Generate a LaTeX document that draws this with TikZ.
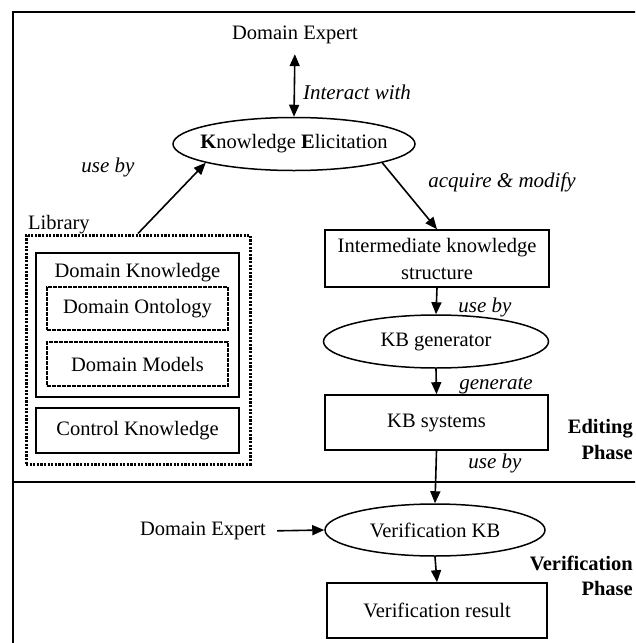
\documentclass[tikz,border=0pt]{standalone}
\usepackage{fontspec}
\setmainfont{Liberation Serif}
\usetikzlibrary{arrows.meta,shapes.geometric}
\begin{document}
\begin{tikzpicture}[x=1pt,y=-1pt,
  every node/.style={font=\fontsize{20.5}{24}\selectfont, inner sep=0pt},
  lbl/.style={font=\fontsize{21}{24}\selectfont\itshape},
  phase/.style={font=\fontsize{20.5}{26}\selectfont\bfseries, align=right, anchor=east},
  box/.style={draw, line width=1.6pt, rectangle, align=center},
  subbox/.style={draw, line width=1.2pt, dash pattern=on 4pt off 1pt, rectangle},
  libbox/.style={draw, line width=3pt, dash pattern=on 2.2pt off 1.4pt, rectangle},
  oval/.style={draw, line width=1.5pt, ellipse},
  tip/.style={-{Triangle[length=12pt,width=10pt]}},
  conn/.style={tip, line width=1.6pt},
  dconn/.style={{Triangle[length=12pt,width=10pt]}-{Triangle[length=12pt,width=10pt]}, line width=1.6pt},
  frame/.style={line width=1.6pt}
]
\useasboundingbox (0,0) rectangle (635,643);
\clip (0,0) rectangle (635,643);

% outer frame and phase divider
\coordinate (ftl) at (13,12);
\coordinate (ftr) at (660,12);
\coordinate (fbl) at (13,660);
\coordinate (dl) at (13,482);
\coordinate (dr) at (660,482);
\draw[frame] (ftr) -- (ftl) -- (fbl);
\draw[frame] (dl) -- (dr);

% editing phase
\node (de) at (295,35) {Domain Expert};
\node[oval, minimum width=242pt, minimum height=53pt] (ke) at (294,144)
  {\makebox[0pt]{\textbf{K}nowledge \textbf{E}licitation}};
\node[lbl] (lint) at (357,92) {Interact with};

% library of knowledge
\node[libbox, minimum width=224pt, minimum height=229pt] (lib) at (138,349.5) {};
\node[anchor=west] (libt) at (28,225) {Library};
\node[box, minimum width=203pt, minimum height=144pt] (dk) at (137.5,325) {};
\node (dkt) at (137.5,273) {Domain Knowledge};
\node[subbox, minimum width=181pt, minimum height=43pt] (onto) at (137.5,308.5) {Domain Ontology};
\node[subbox, minimum width=181pt, minimum height=44pt] (models) at (137.5,364) {Domain Models};
\node[box, minimum width=203pt, minimum height=45pt] (ctrl) at (137.5,430.5) {Control Knowledge};

% generation chain
\node[box, minimum width=224pt, minimum height=57pt, font=\fontsize{20.5}{27}\selectfont] (inter) at (437,258.5)
  {Intermediate knowledge\\structure};
\node[oval, minimum width=225pt, minimum height=53pt] (kbgen) at (436,341.5) {\makebox[0pt]{KB generator}};
\node[box, minimum width=223pt, minimum height=55pt] (kbsys) at (436.5,422.5) {KB systems};

\node[lbl] (luse1) at (108,167) {use by};
\node[lbl] (lacq) at (502,182) {acquire \& modify};
\node[lbl] (luse2) at (485,307) {use by};
\node[lbl] (lgen) at (496,386) {generate};
\node[lbl] (luse3) at (495,463) {use by};

\node[phase] (ep) at (633,439) {Editing\\Phase};

% verification phase
\node[oval, minimum width=220pt, minimum height=52pt] (verkb) at (435,530) {\makebox[0pt]{Verification KB}};
\node (de2) at (203,531) {Domain Expert};
\node[box, minimum width=220pt, minimum height=55pt] (verres) at (437,610.5) {Verification result};
\node[phase, font=\fontsize{20.5}{25}\selectfont\bfseries] (vp) at (633,575.5) {Verification\\Phase};

% connectors
\draw[dconn, shorten <=10pt] (de.south) -- (ke.north);
\draw[conn] (lib.north) -- (ke.192);
\draw[conn] (ke.348) -- (inter.north);
\draw[conn] (inter.south) -- (kbgen.north);
\draw[conn] (kbgen.south) -- (kbsys.north);
\draw[conn] (kbsys.south) -- (verkb.north);
\draw[conn] (verkb.south) -- (verres.north);
\draw[conn, shorten <=11pt] (de2.east) -- (verkb.west);
\end{tikzpicture}
\end{document}
